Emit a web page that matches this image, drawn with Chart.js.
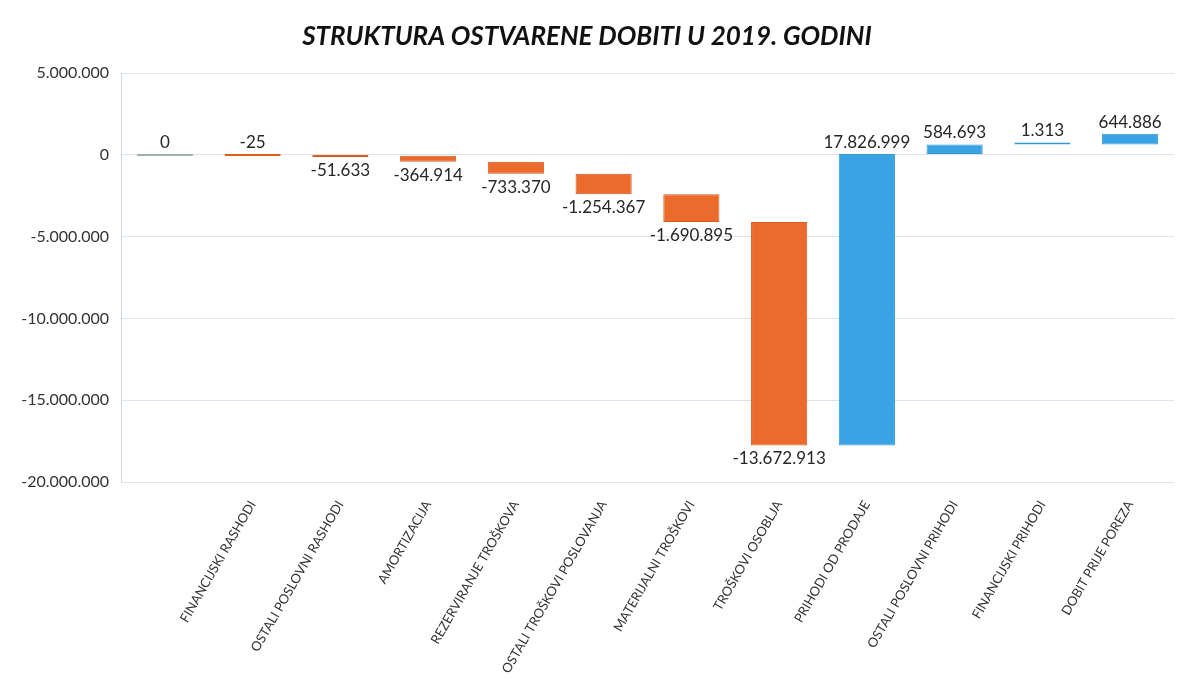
<!DOCTYPE html>
<html lang="hr">
<head>
  <meta charset="UTF-8"/>
  <title>Struktura ostvarene dobiti u 2019. godini</title>
  <script src="https://cdn.jsdelivr.net/npm/chart.js"></script>
  <style>
    body { margin: 0; background: #fff; }
    #wrap { width: 1179px; height: 686px; position: relative; }
  </style>
</head>
<body>
  <div id="wrap"><canvas id="chart"></canvas></div>

  <script>
    // categories (first bar is the starting point, it has no label)
    const categories = [
      '', 'FINANCIJSKI RASHODI', 'OSTALI POSLOVNI RASHODI', 'AMORTIZACIJA',
      'REZERVIRANJE TROŠKOVA', 'OSTALI TROŠKOVI POSLOVANJA', 'MATERIJALNI TROŠKOVI',
      'TROŠKOVI OSOBLJA', 'PRIHODI OD PRODAJE', 'OSTALI POSLOVNI PRIHODI',
      'FINANCIJSKI PRIHODI', 'DOBIT PRIJE POREZA'
    ];
    // change of each step
    const values = [
      0, -25, -51633, -364914, -733370, -1254367, -1690895,
      -13672913, 17826999, 584693, 1313, 644886
    ];
    const yTicks = [5000000, 0, -5000000, -10000000, -15000000, -20000000];

    const ORANGE = '#ec6a2c';
    const BLUE = '#3aa3e3';
    const GREY = '#9fb0b0';

    // waterfall: each bar floats from running total to running total + value
    let run = 0;
    const floating = values.map(v => {
      const seg = [run, run + v];
      run += v;
      return seg;
    });

    function fmt(v) {
      const s = Math.abs(v).toString().replace(/\B(?=(\d{3})+(?!\d))/g, '.');
      return (v < 0 ? '-' : '') + s;
    }

    const valueLabels = {
      id: 'valueLabels',
      afterDatasetsDraw(chart) {
        const ctx = chart.ctx;
        const meta = chart.getDatasetMeta(0);
        ctx.save();
        ctx.font = '17px Lato';
        ctx.fillStyle = '#262626';
        ctx.textAlign = 'center';
        meta.data.forEach((bar, i) => {
          const v = values[i];
          const top = Math.min(bar.y, bar.base);
          const bottom = Math.max(bar.y, bar.base);
          if (v < -100) {
            ctx.textBaseline = 'top';
            ctx.fillText(fmt(v), bar.x, bottom + 5);
          } else {
            ctx.textBaseline = 'bottom';
            ctx.fillText(fmt(v), bar.x, top - 3);
          }
        });
        ctx.restore();
      }
    };

    const ctx = document.getElementById('chart').getContext('2d');
    new Chart(ctx, {
      type: 'bar',
      data: {
        labels: categories,
        datasets: [{
          data: floating,
          backgroundColor: values.map(v => v < 0 ? ORANGE : (v > 0 ? BLUE : GREY)),
          borderColor: values.map(v => v < 0 ? '#dc5c20' : (v > 0 ? '#3199da' : GREY)),
          borderWidth: 1,
          borderSkipped: false,
          minBarLength: 2,
          categoryPercentage: 1,
          barPercentage: 0.64
        }]
      },
      options: {
        responsive: true,
        maintainAspectRatio: false,
        animation: false,
        layout: { padding: { left: 0, right: 5, top: 0, bottom: 4 } },
        plugins: {
          legend: { display: false },
          tooltip: { enabled: false },
          title: {
            display: true,
            text: 'STRUKTURA OSTVARENE DOBITI U 2019. GODINI',
            color: '#111',
            font: { family: 'Lato', size: 26, weight: 'bold', style: 'italic' },
            padding: { top: 21, bottom: 21 }
          }
        },
        scales: {
          x: {
            grid: { display: false },
            border: { display: false },
            ticks: {
              color: '#333',
              font: { family: 'Lato', size: 13 },
              minRotation: 60,
              maxRotation: 60,
              autoSkip: false,
              padding: 8
            },
            afterFit(scale) { scale.height = 200; }
          },
          y: {
            min: -20000000,
            max: 5000000,
            afterBuildTicks(scale) { scale.ticks = yTicks.map(v => ({ value: v })); },
            grid: { color: '#dbe4ec', drawTicks: false },
            border: { color: '#cfd9e2' },
            ticks: {
              color: '#333',
              font: { family: 'Lato', size: 16 },
              padding: 12,
              callback: v => fmt(v)
            },
            afterFit(scale) { scale.width = 121; }
          }
        }
      },
      plugins: [valueLabels]
    });
  </script>
</body>
</html>
